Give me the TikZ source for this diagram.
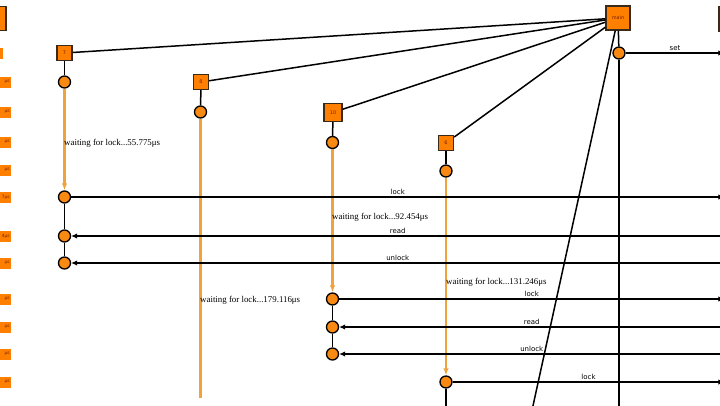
\documentclass[tikz,border=0pt]{standalone}
\usepackage{fontspec}
\setmainfont{Liberation Serif}
\newfontfamily\msgfont{DejaVu Sans}
\usetikzlibrary{arrows.meta}
\definecolor{nodeor}{HTML}{FF8000}
\definecolor{circor}{HTML}{F88A14}
\definecolor{waitc}{HTML}{F0A23C}
\definecolor{bordc}{HTML}{3A2A1A}
\definecolor{boxtext}{HTML}{7A2000}
\definecolor{darkor}{HTML}{B85A20}
\begin{document}
\begin{tikzpicture}[x=1bp,y=-1bp,
  ln/.style={line width=1.5bp, black},
  wait/.style={line width=2.2bp, waitc},
  waitarrow/.style={wait, -{Latex[length=7bp,width=5.5bp]}},
  msgto/.style={ln, -{Latex[length=6bp,width=5.5bp]}},
  evt/.style={circle, minimum size=12bp, inner sep=0pt, fill=circor, draw=black, line width=1.3bp},
  tbox/.style={rectangle, minimum size=15bp, inner sep=0pt, fill=nodeor, draw=bordc, line width=1.3bp, font=\msgfont\fontsize{5}{5}\selectfont, text=boxtext},
  bigbox/.style={tbox, minimum size=24bp},
  msglbl/.style={font=\msgfont\fontsize{7}{8}\selectfont, above, inner sep=1.5bp},
  waitlbl/.style={font=\fontsize{8.9}{10}\selectfont, anchor=west, inner sep=0pt},
  tstamp/.style={fill=nodeor, anchor=east, minimum height=11bp, text width=24bp, align=right, inner sep=1bp, font=\msgfont\fontsize{4.5}{4.5}\selectfont, text=boxtext}
]
\useasboundingbox (0,0) rectangle (720,405);
\clip (0,0) rectangle (720,405);
\fill[white] (0,0) rectangle (720,405);

% lifeline heads
\node[bigbox] (lbox) at (-6,18.5) {};
\node[bigbox] (main) at (618,18) {main};
\node[bigbox, fill=darkor] (rbox) at (731,19) {};
\node[tbox] (t7) at (64.5,53) {7};
\node[tbox] (t8) at (201,82) {8};
\node[tbox, minimum size=18bp] (t10) at (333,112.5) {10};
\node[tbox] (t6) at (446,143) {6};
\coordinate (t9) at (520,465);

% events
\node[evt] (cm) at (619,53) {};
\node[evt] (c7a) at (64.5,82) {};
\node[evt] (c7b) at (64.5,197) {};
\node[evt] (c7c) at (64.5,236) {};
\node[evt] (c7d) at (64.5,263) {};
\node[evt] (c8a) at (200.5,112) {};
\node[evt] (c10a) at (332.5,142.5) {};
\node[evt] (c10b) at (332.5,299) {};
\node[evt] (c10c) at (332.5,327) {};
\node[evt] (c10d) at (332.5,354) {};
\node[evt] (c6a) at (446,171) {};
\node[evt] (c6b) at (446,382) {};
\coordinate (mainend) at (619,420);
\coordinate (c6end) at (446,420);
\coordinate (c8end) at (200.5,398);

% right-hand partner events (off canvas)
\foreach \n/\y in {r1/53,r2/197,r3/236,r4/263,r5/299,r6/327,r7/354,r8/382}
  \node[evt] (\n) at (731,\y) {};

% spawn lines
\draw[ln] (main) -- (t7);
\draw[ln] (main) -- (t8);
\draw[ln] (main) -- (t10);
\draw[ln] (main) -- (t6);
\draw[ln] (main) -- (t9);

% lifelines
\draw[ln] (main) -- (cm);
\draw[ln] (cm) -- (mainend);
\draw[ln] (t7) -- (c7a);
\draw[ln] (t8) -- (c8a);
\draw[ln] (t10) -- (c10a);
\draw[ln] (t6) -- (c6a);
\draw[waitarrow] (c7a) -- (c7b);
\draw[wait] (c8a) -- (c8end);
\draw[waitarrow] (c10a) -- (c10b);
\draw[waitarrow] (c6a) -- (c6b);
\draw[ln] (c7b) -- (c7c);
\draw[ln] (c7c) -- (c7d);
\draw[ln] (c10b) -- (c10c);
\draw[ln] (c10c) -- (c10d);
\draw[ln] (c6b) -- (c6end);

% waiting labels
\node[waitlbl] (w7) at (64,143) {waiting for lock...55.775μs};
\node[waitlbl] (w8) at (200,300) {waiting for lock...179.116μs};
\node[waitlbl] (w10) at (332,217) {waiting for lock...92.454μs};
\node[waitlbl] (w6) at (446,282) {waiting for lock...131.246μs};

% messages
\draw[msgto] (cm) -- (r1) node[msglbl, midway] {set};
\draw[msgto] (c7b) -- (r2) node[msglbl, midway] {lock};
\draw[msgto] (r3) -- (c7c) node[msglbl, midway] {read};
\draw[msgto] (r4) -- (c7d) node[msglbl, midway] {unlock};
\draw[msgto] (c10b) -- (r5) node[msglbl, midway] {lock};
\draw[msgto] (r6) -- (c10c) node[msglbl, midway] {read};
\draw[msgto] (r7) -- (c10d) node[msglbl, midway] {unlock};
\draw[msgto] (c6b) -- (r8) node[msglbl, midway] {lock};

% time stamps (clipped at left edge)
\node[tstamp, text width=6bp] (s0) at (3,53) {};
\foreach \n/\y/\t in {s1/82/μs,s2/112/μs,s3/142/μs,s4/170/μs,s5/197/7μs,s6/236/4μs,s7/263/μs,s8/299/μs,s9/327/μs,s10/354/μs,s11/382/μs}
  \node[tstamp] (\n) at (11,\y) {\t};
\end{tikzpicture}
\end{document}
